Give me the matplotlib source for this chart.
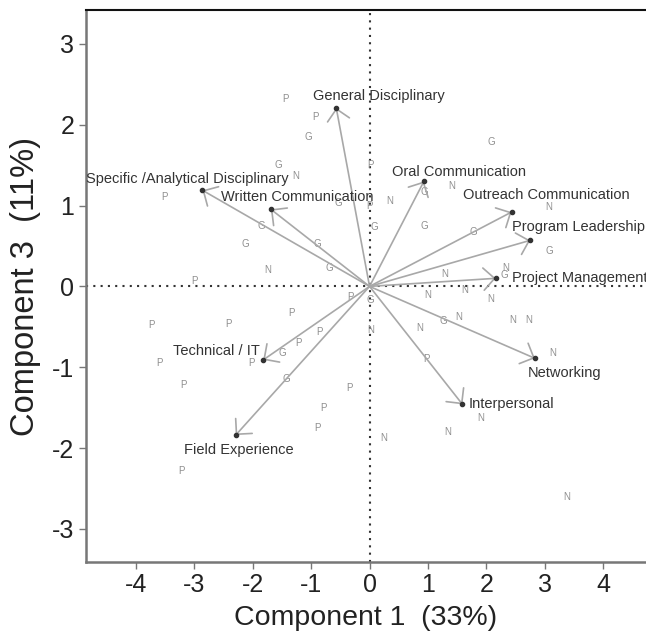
import matplotlib
matplotlib.use("Agg")
import matplotlib.pyplot as plt

plt.rcParams['font.family'] = ['Liberation Sans', 'DejaVu Sans']
plt.rcParams['axes.unicode_minus'] = False

# ---- data ----
var_names = ["General Disciplinary", "Specific /Analytical Disciplinary", "Written Communication",
             "Oral Communication", "Outreach Communication", "Program Leadership",
             "Project Management", "Technical / IT", "Field Experience",
             "Networking", "Interpersonal"]
var_x = [-0.57, -2.86, -1.69, 0.93, 2.43, 2.75, 2.16, -1.82, -2.29, 2.83, 1.59]
var_y = [2.21, 1.19, 0.955, 1.30, 0.92, 0.57, 0.10, -0.91, -1.84, -0.89, -1.46]

pt_labels = ["P", "P", "G", "G", "N", "P", "G", "P", "P", "G", "G", "G", "G", "N", "G", "P",
             "G", "N", "G", "N", "N", "G", "G", "G", "N", "N", "G",
             "N", "N", "N", "G", "N", "G", "N", "N", "N", "N", "N", "P", "N", "N", "N", "N",
             "P", "P", "P", "P", "P", "P", "G", "P", "P", "P", "G", "P", "P", "P", "P"]
pt_x = [-1.44, -0.92, -1.04, -1.56, -1.26, -3.51, -0.53, 0.02, 0.00, 0.09, -1.86, -0.90, -2.13, -1.74, -0.69, -3.00,
        2.08, 1.41, 0.93, 0.34, 3.07, 0.93, 1.78, 3.08, 1.28, 2.33, 2.30,
        0.99, 1.62, 2.07, 0.01, 0.02, 1.26, 1.52, 0.86, 2.45, 2.73, 3.13, 0.98, 1.90, 1.33, 0.24, 3.38,
        -0.32, -1.33, -3.74, -2.41, -0.86, -1.22, -1.50, -3.60, -2.02, -3.18, -1.43, -0.35, -0.79, -0.89, -3.22]
pt_y = [2.32, 2.09, 1.85, 1.50, 1.37, 1.11, 1.03, 1.50, 1.00, 0.74, 0.75, 0.53, 0.53, 0.20, 0.23, 0.07,
        1.79, 1.24, 1.17, 1.06, 0.98, 0.75, 0.67, 0.44, 0.15, 0.23, 0.14,
        -0.105, -0.04, -0.15, -0.17, -0.54, -0.43, -0.38, -0.52, -0.41, -0.41, -0.83, -0.90, -1.63, -1.80, -1.87, -2.61,
        -0.13, -0.33, -0.48, -0.46, -0.57, -0.70, -0.83, -0.95, -0.95, -1.22, -1.14, -1.26, -1.51, -1.75, -2.28]

x_ticks = [-4, -3, -2, -1, 0, 1, 2, 3, 4]
y_ticks = [-3, -2, -1, 0, 1, 2, 3]
x_label = "Component 1  (33%)"
y_label = "Component 3  (11%)"

# ---- layout (label centres for the variable names) ----
name_pos = [(0.16, 2.35), (-3.12, 1.33), (-1.24, 1.11), (1.53, 1.42), (3.02, 1.13),
            (3.57, 0.74), (3.59, 0.11), (-2.62, -0.80), (-2.23, -2.02), (3.34, -1.07), (2.42, -1.45)]

fig = plt.figure(figsize=(6.46, 6.42), dpi=100)
ax = fig.add_axes([85.5 / 646, 80 / 642, 1 - 85.5 / 646, (562 - 10) / 642])
ax.set_xlim(-4.86, 4.73)
ax.set_ylim(-3.41, 3.42)

ax.axhline(0, color='#333333', lw=1.5, ls=(0, (1, 2.5)), zorder=1)
ax.axvline(0, color='#333333', lw=1.5, ls=(0, (1, 2.5)), zorder=1)

for lab, x, y in zip(pt_labels, pt_x, pt_y):
    ax.text(x, y, lab, fontsize=7, color='#8f8f8f', ha='center', va='center', zorder=2)

for name, x, y, (lx, ly) in zip(var_names, var_x, var_y, name_pos):
    ax.annotate('', xy=(x, y), xytext=(0, 0),
                arrowprops=dict(arrowstyle='->,head_length=0.8,head_width=0.8',
                                color='#a8a8a8', lw=1.2, shrinkA=0, shrinkB=0,
                                mutation_scale=10), zorder=3)
    ax.plot([x], [y], marker='o', ms=3, color='#333333', zorder=4)
    ax.text(lx, ly, name, fontsize=10.5, color='#333333', ha='center', va='center', zorder=5)

ax.set_xticks(x_ticks)
ax.set_yticks(y_ticks)
ax.tick_params(direction='out', length=5, width=1, color='#777777', labelsize=18,
               labelcolor='#222222', pad=3)
ax.spines['right'].set_visible(False)
ax.spines['top'].set_color('#111111')
ax.spines['top'].set_linewidth(1.5)
for s in ['left', 'bottom']:
    ax.spines[s].set_color('#777777')
    ax.spines[s].set_linewidth(1.8)

ax.set_xlabel(x_label, fontsize=20.5, color='#222222', labelpad=6)
ax.set_ylabel(y_label, fontsize=23.5, color='#222222', labelpad=8)

fig.savefig("out.png", dpi=100)
